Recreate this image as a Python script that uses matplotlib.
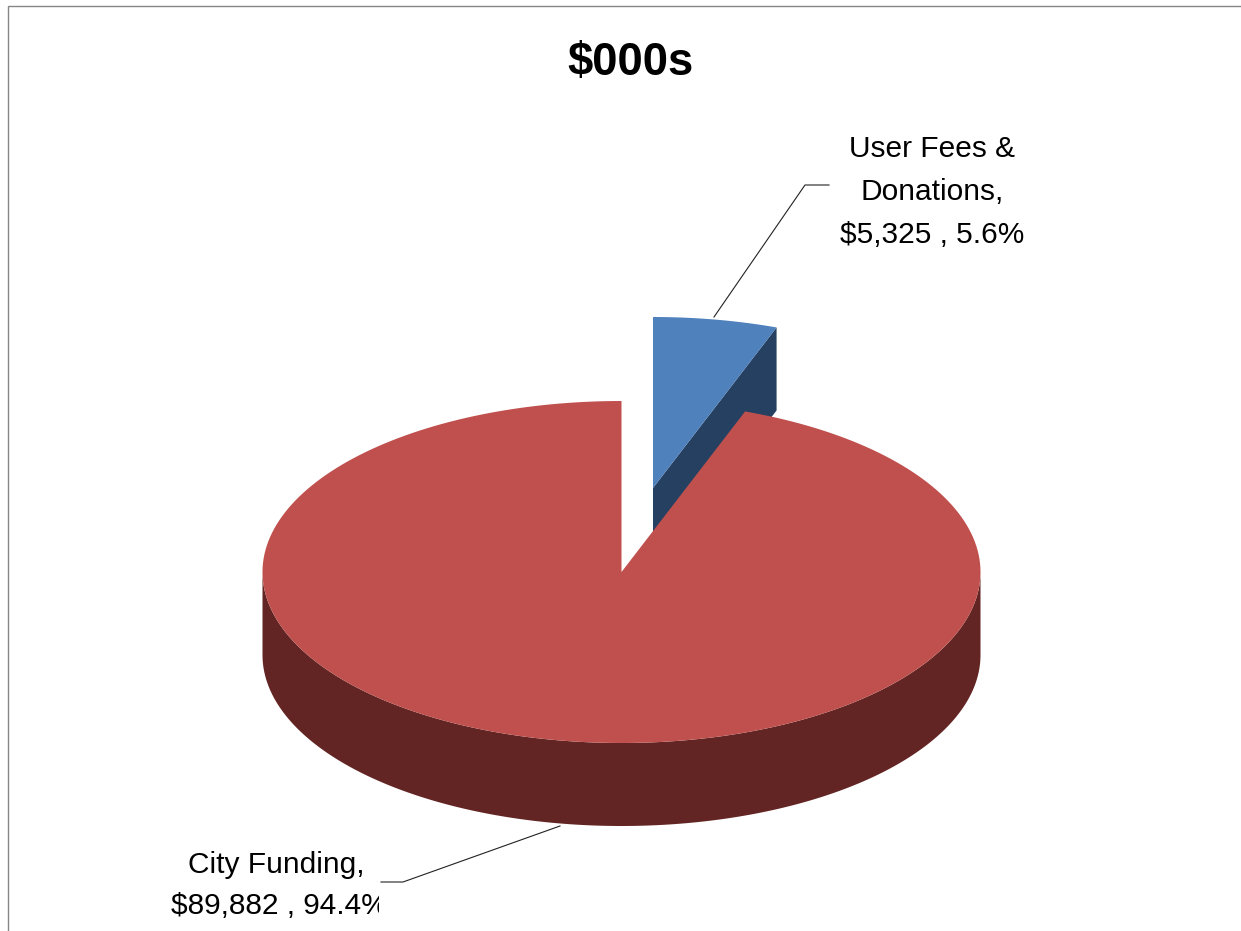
import numpy as np
import matplotlib
matplotlib.use("Agg")
import matplotlib.pyplot as plt
from matplotlib.patches import Polygon
from matplotlib.transforms import Bbox

plt.rcParams['font.family'] = ['Liberation Sans', 'DejaVu Sans']

title = "$000s"
categories = ["User Fees &\nDonations,", "City Funding,"]
values = [5325, 89882]
value_labels = ["$5,325 , 5.6%", "$89,882 , 94.4%"]
top_colors = ["#4F81BD", "#C0504D"]
side_colors = ["#254061", "#632523"]

CX, CY = 621.5, 572     # centre of the pie's top face
RX, RY = 359, 171       # radii of the tilted ellipse
DEPTH = 83              # height of the extruded rim
EXPLODE = (31.5, -84)   # offset of the pulled-out slice


def rim(t0, t1, dx=0, dy=0, n=240):
    """Points on the ellipse, with t measured clockwise from twelve o'clock."""
    t = np.linspace(t0, t1, n)
    return np.column_stack([CX + dx + RX * np.sin(t), CY + dy - RY * np.cos(t)])


fig = plt.figure(figsize=(12.41, 9.31), dpi=100, facecolor="white")
ax = fig.add_axes([0, 0, 1, 1])
ax.set_xlim(0, 1241)
ax.set_ylim(931, 0)
ax.axis("off")

# Chart-area border: only the top and left edges fall inside the canvas
ax.plot([8, 8, 1241], [931, 6, 6], color="#868686", lw=1.0, solid_joinstyle="miter")

split = 2 * np.pi * values[0] / sum(values)

# Pulled-out slice: cut face first, then its top
ex, ey = EXPLODE
apex = np.array([CX + ex, CY + ey])
corner = rim(split, split, ex, ey, 1)[0]
ax.add_patch(Polygon([apex, corner, corner + [0, DEPTH], apex + [0, DEPTH]],
                     closed=True, fc=side_colors[0], ec="none", zorder=2))
ax.add_patch(Polygon(np.vstack([apex, rim(0, split, ex, ey)]),
                     closed=True, fc=top_colors[0], ec="none", zorder=3))

# Main slice: front rim first, then its top
front = rim(np.pi / 2, 3 * np.pi / 2)
ax.add_patch(Polygon(np.vstack([front, (front + [0, DEPTH])[::-1]]),
                     closed=True, fc=side_colors[1], ec="none", zorder=4))
ax.add_patch(Polygon(np.vstack([[CX, CY], rim(split, 2 * np.pi)]),
                     closed=True, fc=top_colors[1], ec="none", zorder=5))

# Leader lines
ax.plot([714, 805, 829], [317, 185, 185], color="#222222", lw=0.8, zorder=6)
ax.plot([560, 403, 381], [826, 882, 882], color="#222222", lw=0.8, zorder=6)

# Text
ax.text(631, 63, title, ha="center", va="center", fontsize=32.8, fontweight="bold", color="black")

label_size = 21.5
upper = categories[0].split("\n")
ax.text(932, 157, upper[0], ha="center", va="baseline", fontsize=label_size)
ax.text(932, 200, upper[1], ha="center", va="baseline", fontsize=label_size)
ax.text(932, 243, value_labels[0], ha="center", va="baseline", fontsize=label_size)

ax.text(276, 873, categories[1], ha="center", va="baseline", fontsize=label_size)
clipped = ax.text(171, 914, value_labels[1], ha="left", va="baseline", fontsize=label_size)
# The lower label's box cuts its last character
clipped.set_clip_box(Bbox([[0, 0], [379, 931]]))
clipped.set_clip_on(True)

fig.savefig("out.png", dpi=100, facecolor="white")
